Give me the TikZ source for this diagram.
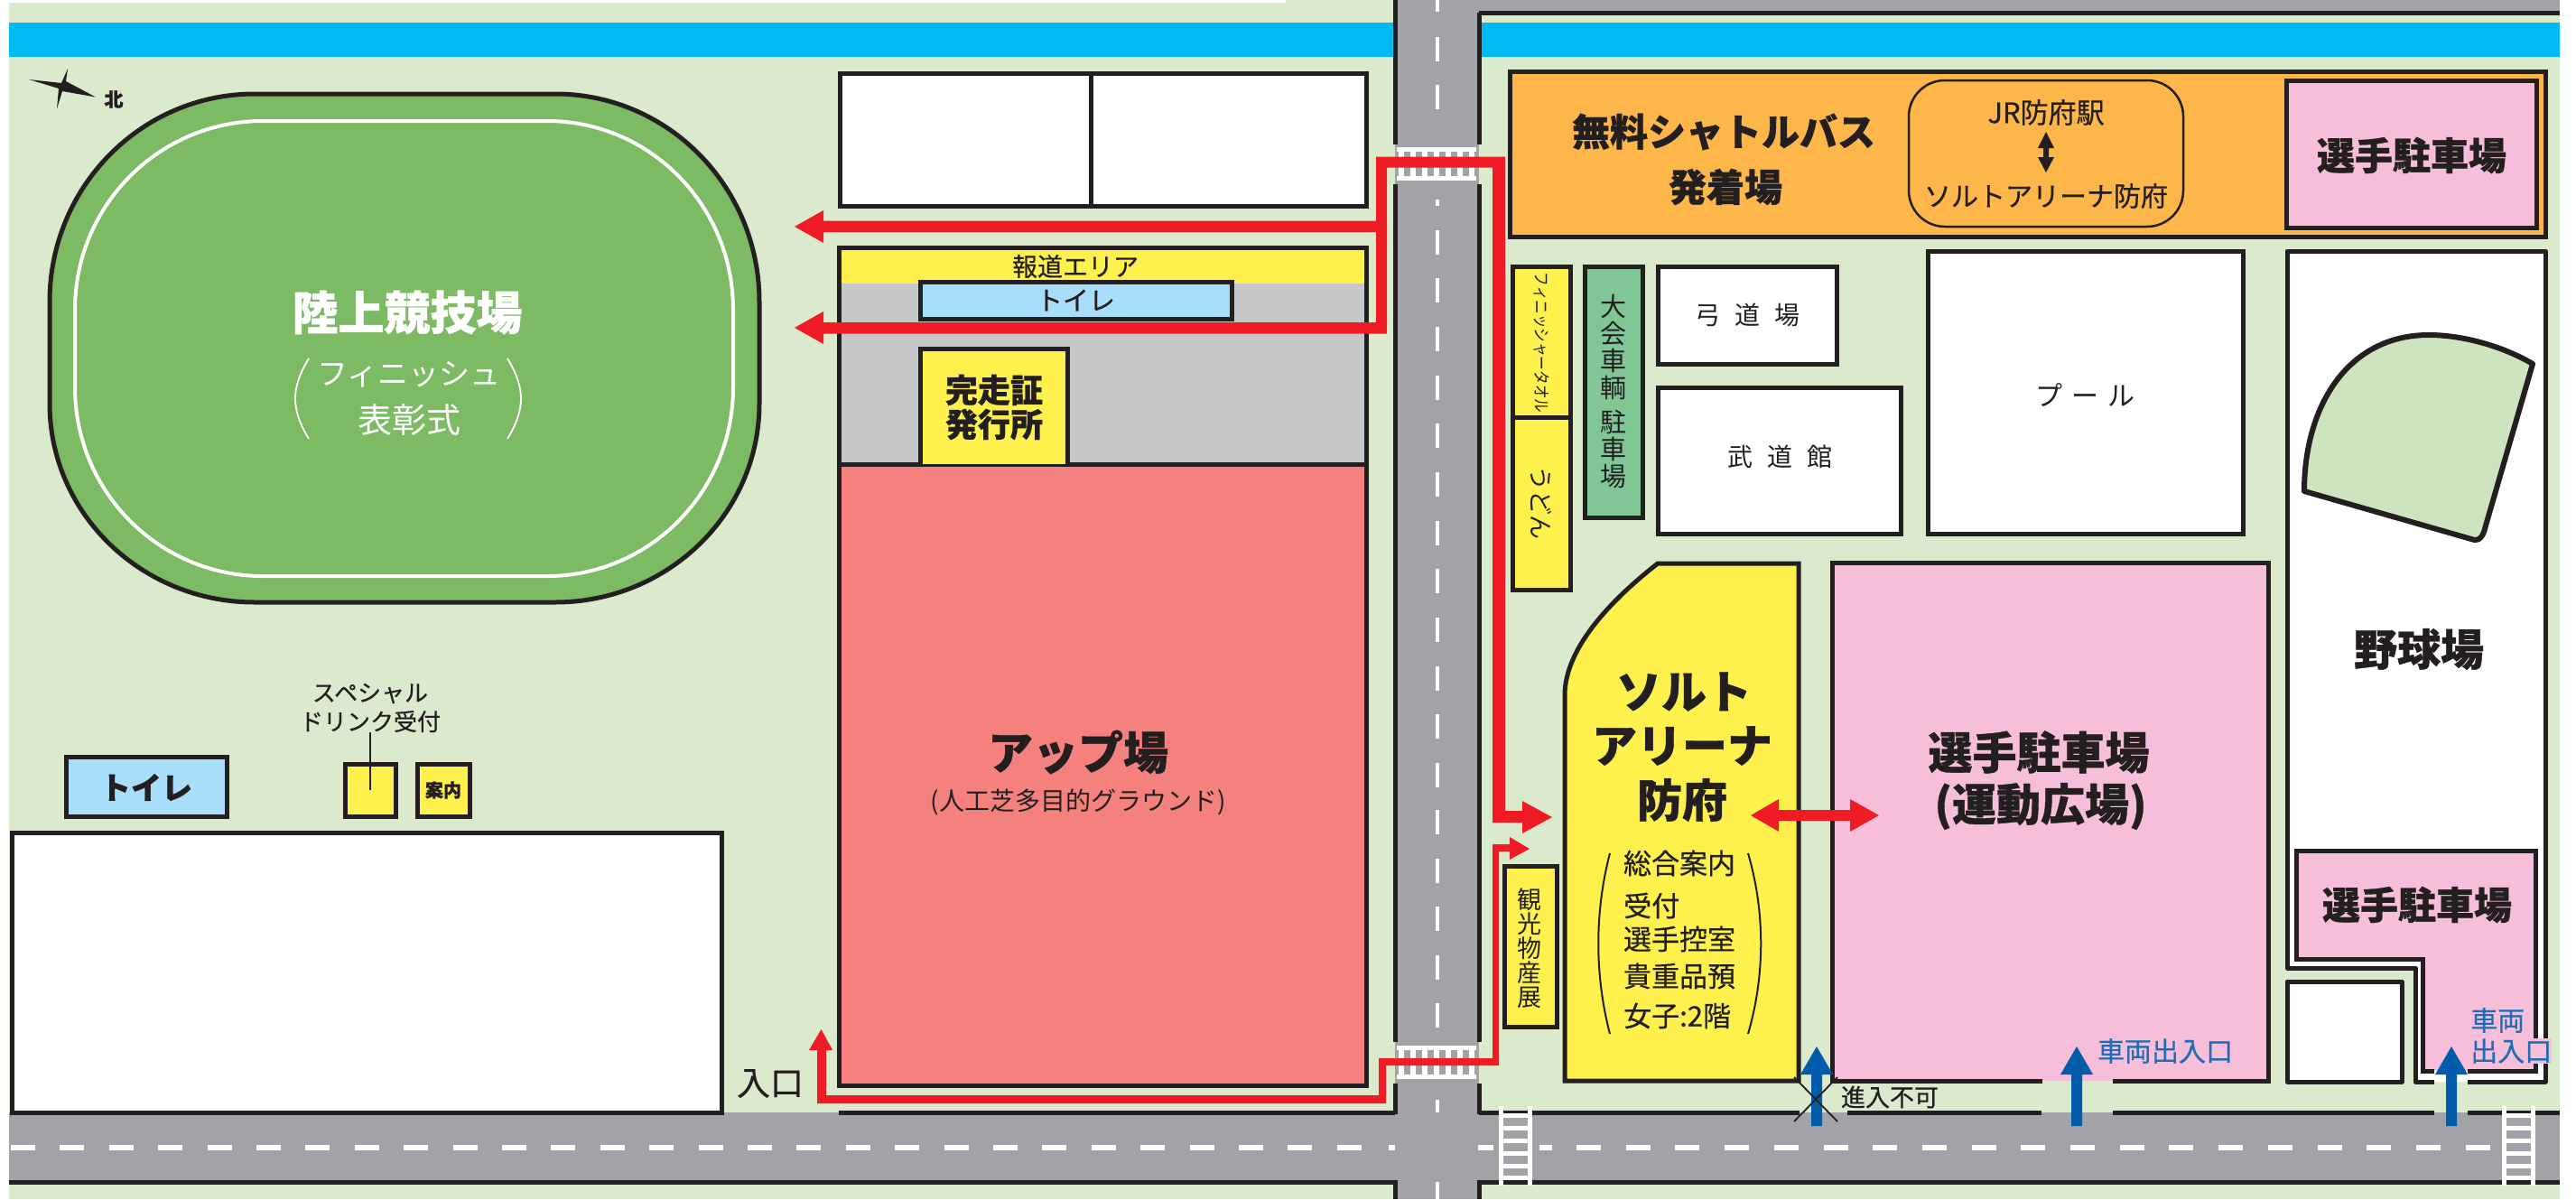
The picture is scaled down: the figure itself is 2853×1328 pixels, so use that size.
\documentclass[tikz,border=0pt]{standalone}
\usepackage{fontspec}
\setmainfont[BoldFeatures={FakeBold=0.8}]{Noto Sans CJK JP}
\newfontfamily\jpm[FakeBold=0.5]{Noto Sans CJK JP}
\definecolor{bgg}{HTML}{DBEACC}
\definecolor{riv}{HTML}{00BBF1}
\definecolor{road}{HTML}{A2A3A6}
\definecolor{ink}{HTML}{231F20}
\definecolor{trk}{HTML}{7CBB64}
\definecolor{yel}{HTML}{FFF14D}
\definecolor{gry}{HTML}{C6C7C9}
\definecolor{sal}{HTML}{F4817D}
\definecolor{sky}{HTML}{A8DEFA}
\definecolor{org}{HTML}{FDB64A}
\definecolor{pnk}{HTML}{F6BED8}
\definecolor{grn}{HTML}{80C795}
\definecolor{dia}{HTML}{CEE4BE}
\definecolor{red1}{HTML}{EF1C25}
\definecolor{blu}{HTML}{035BAB}
\definecolor{blt}{HTML}{1F6DB5}
\newcommand{\fs}[1]{\fontsize{#1}{#1}\selectfont}
\tikzset{
  ln/.style={draw=ink,line width=5pt,line join=miter},
  lab/.style={text=ink,inner sep=0pt,align=center},
  roadmark/.style={fill=white},
  rd/.style={fill=red1},
  bl/.style={fill=blu},
}
\newcommand{\upblue}[1]{\fill[bl] (#1-6,1247) -- (#1-6,1190) -- (#1-18,1190) -- (#1,1159) -- (#1+18,1190) -- (#1+6,1190) -- (#1+6,1247) -- cycle;}
\newcommand{\ladder}[1]{%
  \fill[white] (#1,1225) rectangle (#1+5,1313);
  \fill[white] (#1+32,1225) rectangle (#1+37,1313);
  \foreach \yy in {1235,1249,1263,1277,1291,1304} \fill[white] (#1,\yy-2.5) rectangle (#1+37,\yy+2.5);
}
\newcommand{\crossing}[2]{%
  \fill[white] (1547,#1) rectangle (1635,#1+5);
  \fill[white] (1547,#2-5) rectangle (1635,#2);
  \foreach \xx in {1552,1565,...,1630} \fill[white] (\xx-3,#1+5) rectangle (\xx+3,#2-5);
}
\begin{document}
\begin{tikzpicture}[x=1pt,y=-1pt]
\useasboundingbox (0,0) rectangle (2853,1328);
\fill[white] (0,0) rectangle (2853,1328);
% ground
\fill[bgg] (10,3) rectangle (2835,1328);
\fill[bgg] (1424,0) rectangle (2835,3);
% river
\fill[riv] (10,25) rectangle (2835,63);
% roads
\fill[road] (1545,0) rectangle (1638,1328);
\fill[road] (1638,0) rectangle (2835,14);
\fill[road] (10,1232) rectangle (2835,1309);
% road edge lines
\draw[ln] (1545,0) -- (1545,160);
\draw[ln] (1545,204) -- (1545,1154);
\draw[ln] (1545,1200) -- (1545,1234);
\draw[ln] (1638,14) -- (1638,160);
\draw[ln] (1638,204) -- (1638,1154);
\draw[ln] (1638,1200) -- (1638,1234);
\draw[ln] (1638,14) -- (2835,14);
\draw[ln] (929,1232) -- (1545,1232);
\draw[ln] (1638,1232) -- (1993,1232);
\draw[ln] (2046,1232) -- (2261,1232);
\draw[ln] (2340,1232) -- (2696,1232);
\draw[ln] (2733,1232) -- (2835,1232);
\draw[ln] (10,1309) -- (1545,1309) -- (1545,1328);
\draw[ln] (2835,1309) -- (1638,1309) -- (1638,1328);
% road centre dashes
\foreach \yy in {-14,41,94,255,308,362,416,469,523,577,630,684,738,791,845,897,951,1004,1058,1111} \fill[roadmark] (1590,\yy) rectangle (1594,\yy+27);
\fill[roadmark] (1590,221) rectangle (1594,228);
\fill[roadmark] (1590,1218) rectangle (1594,1232);
\fill[roadmark] (1590,1309) rectangle (1594,1328);
\foreach \i in {0,...,27} \fill[roadmark] ({12+54.4*\i},1268) rectangle ({39+54.4*\i},1274);
\fill[roadmark] (1538,1268) rectangle (1545,1274);
\fill[roadmark] (1637,1268) rectangle (1654,1274);
\fill[roadmark] (1705,1268) rectangle (1719,1274);
\foreach \i in {0,...,18} \fill[roadmark] ({1746+54.7*\i},1268) rectangle ({1773+54.7*\i},1274);
% crossings
\crossing{163}{200}
\crossing{1158}{1195}
\ladder{1660}
\ladder{2771}
% track
\path[fill=trk,ln] (282,104) -- (615,104) arc[start angle=-90,end angle=0,x radius=226,y radius=230] -- (841,447) arc[start angle=0,end angle=90,x radius=226,y radius=220] -- (282,667) arc[start angle=90,end angle=180,x radius=227,y radius=220] -- (55,334) arc[start angle=180,end angle=270,x radius=227,y radius=230] -- cycle;
\draw[white,line width=4pt] (291,134) -- (606,134) arc[start angle=-90,end angle=0,x radius=206,y radius=209] -- (812,429) arc[start angle=0,end angle=90,x radius=206,y radius=209] -- (291,638) arc[start angle=90,end angle=180,x radius=208,y radius=209] -- (83,343) arc[start angle=180,end angle=270,x radius=208,y radius=209] -- cycle;
\node[lab,text=white] (trackname) at (451,346) {\fs{51}\bfseries 陸上競技場};
\node[lab,text=white] (finish) at (453,415) {\fs{34}フィニッシュ};
\node[lab,text=white] (award) at (453,465) {\fs{38}表彰式};
\draw[white,line width=1.8pt] (342,397) .. controls (322,430) and (322,453) .. (342,486);
\draw[white,line width=1.8pt] (562,397) .. controls (582,430) and (582,453) .. (562,486);
% north star
\fill[ink] (75,76) -- (73,90) -- (106,107.5) -- (69,101) -- (63,120.5) -- (65,98) -- (32,88) -- (68,92) -- cycle;
\node[lab] (north) at (126,110) {\fs{21}\bfseries 北};
% top-left white block
\path[fill=white,ln] (930,81) rectangle (1513,228);
\draw[ln] (1208,81) -- (1208,228);
% warm-up
\fill[yel] (929,274) rectangle (1513,314);
\fill[gry] (929,314) rectangle (1513,514);
\path[fill=sal] (929,514) rectangle (1513,1202);
\draw[ln] (929,274) rectangle (1513,1202);
\draw[ln] (929,514) -- (1513,514);
\node[lab] (press) at (1191,295) {\jpm\fs{28}報道エリア};
\node[draw=ink,line width=5pt,fill=sky,minimum width=345pt,minimum height=41pt,inner sep=0pt,text=ink] (toilet1) at (1191.5,332.5) {\jpm\fs{29}トイレ};
\path[fill=yel,ln] (1019,514) -- (1019,386) -- (1182,386) -- (1182,514);
\node[lab,font={\fontsize{36}{38}\selectfont\bfseries}] (cert) at (1101,451) {完走証\\発行所};
\node[lab] (warmup) at (1194,833) {\fs{50}\bfseries アップ場};
\node[lab] (warmsub) at (1194,888) {\fs{28}(人工芝多目的グラウンド)};
% left lower
\path[fill=white,ln] (13,922) rectangle (799,1232);
\path[fill=sky,ln] (73,838) rectangle (251,904);
\node[lab] (toilet2) at (162,872) {\fs{34}\bfseries トイレ};
\path[fill=yel,ln] (382,846) rectangle (438,904);
\path[fill=yel,ln] (462,846) rectangle (520,904);
\node[lab] (info) at (491,875) {\fs{20}\bfseries 案内};
\node[lab] (drink1) at (410,768) {\jpm\fs{26}スペシャル};
\node[lab] (drink2) at (410,799) {\jpm\fs{26}ドリンク受付};
\coordinate (drinkend) at (410,875);
\draw[ink,line width=1.8pt] (drink2.south) -- (drinkend);
\node[lab] (entry) at (853,1200) {\jpm\fs{37}入口};
% orange
\path[fill=org,ln] (1672,79) rectangle (2819,262);
\node[lab] (bus) at (1909,146) {\fs{42}\bfseries 無料シャトルバス};
\node[lab] (bus2) at (1911,207) {\fs{42}\bfseries 発着場};
\draw[ink,line width=2.5pt,rounded corners=40pt] (2114,89) rectangle (2418,251);
\node[lab] (jr) at (2266,124.5) {\jpm\fs{31}JR防府駅};
\node[lab] (salt) at (2266,217) {\jpm\fs{30}ソルトアリーナ防府};
\fill[ink] (2266,146) -- (2275,164) -- (2269,164) -- (2269,174) -- (2275,174) -- (2266,191) -- (2257,174) -- (2263,174) -- (2263,164) -- (2257,164) -- cycle;
\path[fill=pnk,ln] (2532,89) rectangle (2809,252);
\node[lab] (park1) at (2671,172) {\fs{42}\bfseries 選手駐車場};
% narrow boxes
\path[fill=yel,ln] (1675,295) rectangle (1739,462);
\path[fill=yel,ln] (1675,462) rectangle (1739,653);
\node[lab,rotate=-90] (towel) at (1707,379.5) {\fs{19}\scalebox{0.82}[1]{フィニッシャータオル}};
\node[lab,rotate=-90] (udon) at (1707,557) {\fs{27}うどん};
\path[fill=grn,ln] (1755,295) rectangle (1819,573);
\node[lab,font={\fontsize{29}{30}\selectfont}] (vcar) at (1787,433.5) {大\\会\\車\\輌\\[8pt]駐\\車\\場};
\path[fill=white,ln] (1836,295) rectangle (2034,403);
\node[lab] (kyudo) at (1935,349) {\fs{28}弓\hspace{16pt}道\hspace{16pt}場};
\path[fill=white,ln] (1836,429) rectangle (2105,591);
\node[lab] (budo) at (1971,506) {\fs{28}武\hspace{16pt}道\hspace{16pt}館};
\path[fill=white,ln] (2135,278) rectangle (2484,591);
\node[lab] (pool) at (2309,438) {\fs{30}プ\hspace{10pt}ー\hspace{10pt}ル};
% baseball
\fill[white] (2533,278) -- (2819,278) -- (2819,1198) -- (2675,1198) -- (2675,1072) -- (2533,1072) -- cycle;
\draw[ln,line join=round] (2696,1198) -- (2675,1198) -- (2675,1072) -- (2533,1072) -- (2533,278) -- (2819,278) -- (2819,1198) -- (2733,1198);
\path[fill=dia,draw=ink,line width=6pt,line join=round] (2552,544) .. controls (2552,450) and (2600,371) .. (2690,371) .. controls (2730,371) and (2775,385) .. (2805,403) -- (2753,582) .. controls (2750,596) and (2745,600) .. (2737,597) -- cycle;
\node[lab] (baseball) at (2679,719) {\fs{48}\bfseries 野球場};
\fill[pnk] (2543,942) -- (2808,942) -- (2808,1186) -- (2683,1186) -- (2683,1062) -- (2543,1062) -- cycle;
\draw[ln] (2696,1186) -- (2683,1186) -- (2683,1062) -- (2543,1062) -- (2543,942) -- (2808,942) -- (2808,1186) -- (2733,1186);
\node[lab] (park3) at (2677,1002) {\fs{42}\bfseries 選手駐車場};
\path[fill=white,ln,line join=round] (2533,1087) rectangle (2660,1198);
% arena
\path[fill=yel,ln] (1836,624) -- (1992,624) -- (1992,1197) -- (1733,1197) -- (1733,770) .. controls (1733,715) and (1790,660) .. (1836,624) -- cycle;
\node[lab] (a1) at (1865,766) {\fs{50}\bfseries ソルト};
\node[lab] (a2) at (1863,826) {\fs{50}\bfseries アリーナ};
\node[lab] (a3) at (1863,886) {\fs{50}\bfseries 防府};
\node[lab] (i1) at (1860,956) {\jpm\fs{31}総合案内};
\node[lab,anchor=west] (i2) at (1798,1003) {\jpm\fs{31}受付};
\node[lab] (i3) at (1860,1040) {\jpm\fs{31}選手控室};
\node[lab] (i4) at (1860,1081) {\jpm\fs{31}貴重品預};
\node[lab,anchor=west] (i5) at (1798,1125) {\jpm\fs{31}女子:2階};
\draw[ink,line width=2pt] (1783,945) .. controls (1766,1010) and (1766,1080) .. (1783,1145);
\draw[ink,line width=2pt] (1936,945) .. controls (1955,1010) and (1955,1080) .. (1936,1145);
% big parking
\fill[pnk] (2029,623) rectangle (2512,1197);
\draw[ln] (2262,1197) -- (2029,1197) -- (2029,623) -- (2512,623) -- (2512,1197) -- (2340,1197);
\node[lab] (park2) at (2258,833) {\fs{49}\bfseries 選手駐車場};
\node[lab] (park2b) at (2260,893) {\fs{49}\bfseries (運動広場)};
% souvenir
\path[fill=yel,ln] (1666,959) rectangle (1724,1137);
\node[lab,font={\fontsize{27}{27}\selectfont}] (sv) at (1694,1050) {観\\光\\物\\産\\展};
% red routes
\fill[rd] (1667,173.5) -- (1524,173.5) -- (1524,244.5) -- (912,244.5) -- (912,233) -- (880,251) -- (912,269) -- (912,257) -- (1524,257) -- (1524,357) -- (912,357) -- (912,345) -- (880,363) -- (912,381) -- (912,369.5) -- (1536,369.5) -- (1536,185.5) -- (1653,185.5) -- (1653,911) -- (1686,911) -- (1686,923) -- (1719,905) -- (1686,887) -- (1686,898) -- (1667,898) -- cycle;
\fill[rd] (905,1222) -- (1535,1222) -- (1535,1180) -- (1660,1180) -- (1660,943) -- (1672,943) -- (1672,952) -- (1694,940) -- (1672,927) -- (1672,935) -- (1653,935) -- (1653,1172) -- (1527,1172) -- (1527,1213) -- (915,1213) -- (915,1163) -- (922,1163) -- (909.5,1140) -- (896,1163) -- (905,1163) -- cycle;
\fill[rd] (1939,903) -- (1970,885) -- (1970,897) -- (2049,897) -- (2049,885) -- (2081,903) -- (2049,921) -- (2049,909) -- (1970,909) -- (1970,921) -- cycle;
% blue arrows and labels
\upblue{2012}
\upblue{2300}
\upblue{2715}
\draw[ink,line width=1.8pt] (1987,1193) -- (2035,1242);
\draw[ink,line width=1.8pt] (2035,1193) -- (1987,1242);
\node[lab] (noentry) at (2093,1215) {\jpm\fs{27}進入不可};
\node[lab,text=blt] (veh1) at (2398,1164) {\jpm\fs{30}車両出入口};
\node[lab,text=blt,anchor=west] (veh2) at (2736,1130) {\jpm\fs{30}車両};
\node[lab,text=blt,anchor=west,fill=pnk] (veh3) at (2736,1164) {\jpm\fs{30}出入口};
\end{tikzpicture}
\end{document}
